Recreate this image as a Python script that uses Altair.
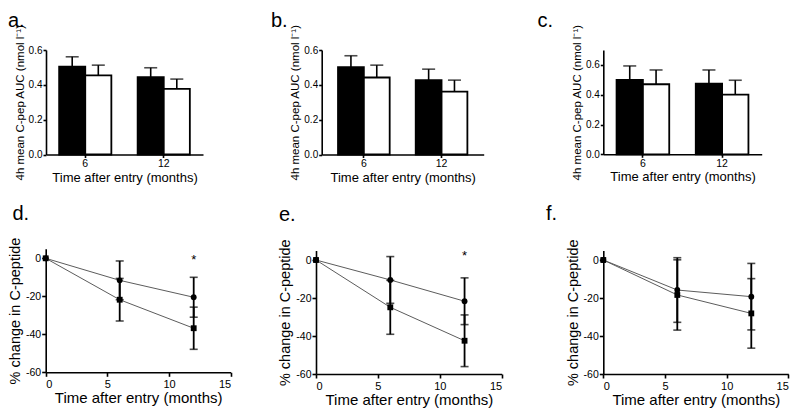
import altair as alt
import pandas as pd

FONT = "Liberation Sans, Arial, Helvetica, sans-serif"
H = 408

# ---------------- data ----------------
bar_months = ["6", "12"]
bar_groups = ["Group 1", "Group 2"]          # black, white

a_black_mean = [0.504, 0.444]
a_black_sem = [0.057, 0.054]
a_white_mean = [0.454, 0.377]
a_white_sem = [0.059, 0.056]

b_black_mean = [0.501, 0.427]
b_black_sem = [0.066, 0.063]
b_white_mean = [0.442, 0.361]
b_white_sem = [0.071, 0.066]

c_black_mean = [0.499, 0.474]
c_black_sem = [0.094, 0.092]
c_white_mean = [0.470, 0.400]
c_white_sem = [0.096, 0.097]

line_months = [0, 6, 12]
line_series = ["circle", "square"]

d_circle_mean = [0, -11.6, -20.5]
d_circle_sem = [0, 10.2, 10.5]
d_square_mean = [0, -21.8, -36.8]
d_square_sem = [0, 11.2, 11.1]

e_circle_mean = [0, -10.5, -21.7]
e_circle_sem = [0, 12.3, 12.3]
e_square_mean = [0, -24.9, -42.5]
e_square_sem = [0, 14.2, 13.6]

f_circle_mean = [0, -15.8, -19.3]
f_circle_sem = [0, 17.0, 17.5]
f_square_mean = [0, -18.4, -28.1]
f_square_sem = [0, 18.5, 18.3]

bar_ytitle = "4h mean C-pep AUC (nmol l\u207b\u00b9)"
line_ytitle = "% change in C-peptide"
xtitle = "Time after entry (months)"

AX = dict(domainColor="black", domainWidth=1.6, tickColor="black", tickWidth=1.6,
          grid=False, labelColor="black", labelFont=FONT, titleFont=FONT,
          titleColor="black", titleFontWeight="normal")


def panel_label(text, x, y):
    return alt.Chart(pd.DataFrame({"t": [text]})).mark_text(
        fontSize=20, font=FONT, color="black", align="left", baseline="alphabetic"
    ).encode(text="t:N", x=alt.value(x), y=alt.value(y))


def bar_panel(label, lab_xy, bm, bs, wm, ws, xrange, yrange, ydomain, yvalues, po):
    rows = []
    for g, means, sems in [(bar_groups[0], bm, bs), (bar_groups[1], wm, ws)]:
        for i, m in enumerate(bar_months):
            rows.append(dict(month=m, group=g, mean=means[i], upper=means[i] + sems[i]))
    df = pd.DataFrame(rows)
    xax = alt.Axis(orient="bottom", offset=yrange[0] - H, title=xtitle, titleFontSize=13,
                   labelFontSize=10.5, labelAngle=0, tickSize=3, labelPadding=1,
                   titlePadding=2, **AX)
    yax = alt.Axis(orient="left", offset=-xrange[0], values=yvalues, format=".1f",
                   title=bar_ytitle, titleFontSize=11.5, labelFontSize=10, tickSize=3,
                   labelPadding=1, titlePadding=3, **AX)
    xs = alt.Scale(range=xrange, paddingInner=0.335, paddingOuter=po)
    ys = alt.Scale(domain=ydomain, range=yrange, nice=False, zero=True)
    X = alt.X("month:N", sort=bar_months, scale=xs, axis=xax)
    XO = alt.XOffset("group:N", sort=bar_groups, scale=alt.Scale(paddingInner=0, paddingOuter=0))
    bars = alt.Chart(df).mark_bar(stroke="black", strokeWidth=1.8).encode(
        x=X, xOffset=XO,
        y=alt.Y("mean:Q", scale=ys, axis=yax),
        fill=alt.Fill("group:N", scale=alt.Scale(domain=bar_groups, range=["black", "white"]), legend=None),
    )
    rule = alt.Chart(df).mark_rule(color="black", strokeWidth=1.6).encode(
        x=X, xOffset=XO, y=alt.Y("mean:Q", scale=ys, axis=yax), y2="upper:Q")
    cap = alt.Chart(df).mark_tick(color="black", size=13, thickness=1.6).encode(
        x=X, xOffset=XO, y=alt.Y("upper:Q", scale=ys, axis=yax))
    return alt.layer(bars, rule, cap, panel_label(label, *lab_xy))


def line_panel(label, lab_xy, cm, cs, sm, ss, xrange, yrange, star_y):
    rows = []
    for s, means, sems in [("circle", cm, cs), ("square", sm, ss)]:
        for i, mo in enumerate(line_months):
            rows.append(dict(month=mo, series=s, mean=means[i], sem=sems[i],
                             lo=means[i] - sems[i], hi=means[i] + sems[i]))
    df = pd.DataFrame(rows)
    xax = alt.Axis(orient="bottom", offset=yrange[0] - H, values=[0, 5, 10, 15], title=xtitle,
                   titleFontSize=15, labelFontSize=11, tickSize=4, labelPadding=2,
                   titlePadding=1, **AX)
    yax = alt.Axis(orient="left", offset=-xrange[0], values=[-60, -40, -20, 0],
                   labelExpr="replace(datum.label, '\u2212', '-')",
                   title=line_ytitle, titleFontSize=14.5, labelFontSize=10.5, tickSize=4,
                   labelPadding=1, titlePadding=3, **AX)
    xs = alt.Scale(domain=[0, 15], range=xrange, nice=False, zero=False)
    ys = alt.Scale(domain=[-60, 5], range=yrange, nice=False, zero=False)
    X = alt.X("month:Q", scale=xs, axis=xax)
    base = alt.Chart(df)
    line = base.mark_line(color="#5c5c5c", strokeWidth=1).encode(
        x=X, y=alt.Y("mean:Q", scale=ys, axis=yax), detail="series:N")
    err = base.transform_filter("datum.sem > 0")
    rule = err.mark_rule(color="black", strokeWidth=1.8).encode(
        x=X, y=alt.Y("lo:Q", scale=ys, axis=yax), y2="hi:Q")
    cap_lo = err.mark_tick(color="black", orient="horizontal", size=8, thickness=1.6).encode(
        x=X, y=alt.Y("lo:Q", scale=ys, axis=yax))
    cap_hi = err.mark_tick(color="black", orient="horizontal", size=8, thickness=1.6).encode(
        x=X, y=alt.Y("hi:Q", scale=ys, axis=yax))
    pts = base.mark_point(filled=True, opacity=1, color="black", size=34).encode(
        x=X, y=alt.Y("mean:Q", scale=ys, axis=yax),
        shape=alt.Shape("series:N", scale=alt.Scale(domain=line_series, range=["circle", "square"]), legend=None))
    layers = [line, rule, cap_lo, cap_hi, pts]
    if star_y is not None:
        star = alt.Chart(pd.DataFrame({"month": [12], "y": [star_y], "t": ["*"]})).mark_text(
            fontSize=13, font=FONT, color="black", baseline="middle").encode(
            x=X, y=alt.Y("y:Q", scale=ys, axis=yax), text="t:N")
        layers.append(star)
    layers.append(panel_label(label, *lab_xy))
    return alt.layer(*layers)


pa = bar_panel("a.", (0, 18.5), a_black_mean, a_black_sem, a_white_mean, a_white_sem,
               [38, 195], [146.5, 42], [0, 0.6], [0, 0.2, 0.4, 0.6], 0.1675)
pb = bar_panel("b.", (263, 18.5), b_black_mean, b_black_sem, b_white_mean, b_white_sem,
               [313.7, 475.7], [146.5, 42], [0, 0.6], [0, 0.2, 0.4, 0.6], 0.21)
pc = bar_panel("c.", (529.5, 18.5), c_black_mean, c_black_sem, c_white_mean, c_white_sem,
               [595.3, 753.7], [146.3, 42], [0, 0.7], [0, 0.2, 0.4, 0.6], 0.1675)
pd_ = line_panel("d.", (4.5, 212), d_circle_mean, d_circle_sem, d_square_mean, d_square_sem,
                 [37.7, 222.7], [364.3, 240.8], -1.0)
pe = line_panel("e.", (271, 212.5), e_circle_mean, e_circle_sem, e_square_mean, e_square_sem,
                [308, 493.7], [366, 242.5], 2.0)
pf = line_panel("f.", (538, 212), f_circle_mean, f_circle_sem, f_square_mean, f_square_sem,
                [595.3, 780.3], [366, 242.5], None)

chart = alt.layer(pa, pb, pc, pd_, pe, pf).resolve_scale(
    x="independent", y="independent", xOffset="independent"
).properties(
    width=784, height=H, padding=0, autosize=alt.AutoSizeParams(type="none")
).configure(font=FONT, view=alt.ViewConfig(stroke=None))

chart.save("out.html", embed_options={"renderer": "svg", "actions": False})
